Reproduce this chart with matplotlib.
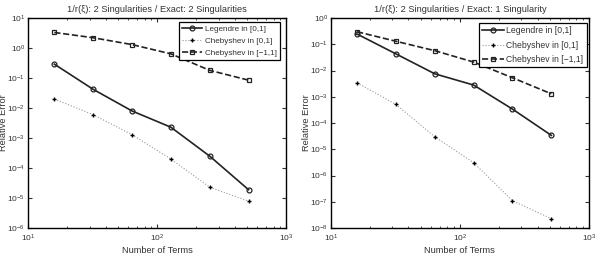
import matplotlib.pyplot as plt
import numpy as np

plt.rcParams['font.family'] = ['Liberation Sans', 'DejaVu Sans']
plt.rcParams['font.size'] = 6.5

n = np.array([16, 32, 64, 128, 256, 512])

# left: exact 2 singularities
leg_a = np.array([0.29, 0.042, 0.008, 0.0023, 2.5e-4, 1.9e-5])
cheb01_a = np.array([0.02, 0.006, 1.3e-3, 2.0e-4, 2.3e-5, 7.9e-6])
cheb11_a = np.array([3.3, 2.2, 1.3, 0.64, 0.18, 0.085])

# right: exact 1 singularity
leg_b = np.array([0.245, 0.043, 0.0075, 0.0028, 3.4e-4, 3.4e-5])
cheb01_b = np.array([3.4e-3, 5.1e-4, 3.0e-5, 3.1e-6, 1.1e-7, 2.3e-8])
cheb11_b = np.array([0.3, 0.13, 0.057, 0.021, 0.0053, 0.0013])

titles = ['1/r(\u03be): 2 Singularities / Exact: 2 Singularities',
          '1/r(\u03be): 2 Singularities / Exact: 1 Singularity']
ylims = [(1e-6, 1e1), (1e-8, 1e0)]
labels = ['Legendre in [0,1]', 'Chebyshev in [0,1]', 'Chebyshev in [\u22121,1]']

fig = plt.figure(figsize=(5.96, 2.61), dpi=100)
ax1 = fig.add_axes([0.047, 0.126, 0.433, 0.805])
ax2 = fig.add_axes([0.555, 0.126, 0.433, 0.805])

setup = [(ax1, leg_a, cheb01_a, cheb11_a, titles[0], ylims[0], 5.9, (0.977, 0.981), 0.5),
         (ax2, leg_b, cheb01_b, cheb11_b, titles[1], ylims[1], 6.2, (0.992, 0.976), 0.6)]

for ax, leg, c01, c11, t, yl, lfs, anchor, lsp in setup:
    ax.loglog(n, leg, '-', color='#222222', lw=1.2, marker='o', ms=3.5, mfc='none', mew=0.9, label=labels[0])
    ax.loglog(n, c01, ':', color='#999999', lw=0.8, marker='+', ms=3.5, mec='black', mew=1.0, label=labels[1])
    ax.loglog(n, c11, '--', color='#222222', lw=1.2, marker='s', ms=3, mfc='none', mew=0.9, label=labels[2])
    ax.set_xlim(10, 1000)
    ax.set_ylim(*yl)
    ax.set_title(t, fontsize=6.7, color='#333333', pad=4)
    ax.set_xlabel('Number of Terms', fontsize=6.7, color='#333333', labelpad=1)
    ax.set_ylabel('Relative Error', fontsize=6.7, color='#333333')
    ax.yaxis.set_label_coords(-0.078, 0.5)
    ax.tick_params(which='both', direction='in', top=True, right=True, labelsize=6, colors='#333333', pad=2)
    ax.tick_params(axis='x', which='major', pad=3.5)
    ax.tick_params(which='major', length=3)
    ax.tick_params(which='minor', length=1.5)
    ax.yaxis.set_minor_locator(plt.NullLocator())
    for s in ax.spines.values():
        s.set_linewidth(1.0)
    lg = ax.legend(loc='upper right', bbox_to_anchor=anchor, borderaxespad=0, fontsize=lfs,
                   frameon=True, fancybox=False, edgecolor='black', framealpha=1,
                   handlelength=2.5, borderpad=0.4, labelspacing=lsp, handletextpad=0.3)
    lg.get_frame().set_linewidth(0.9)
    for txt in lg.get_texts():
        txt.set_color('#333333')

fig.savefig('out.png', dpi=100)
